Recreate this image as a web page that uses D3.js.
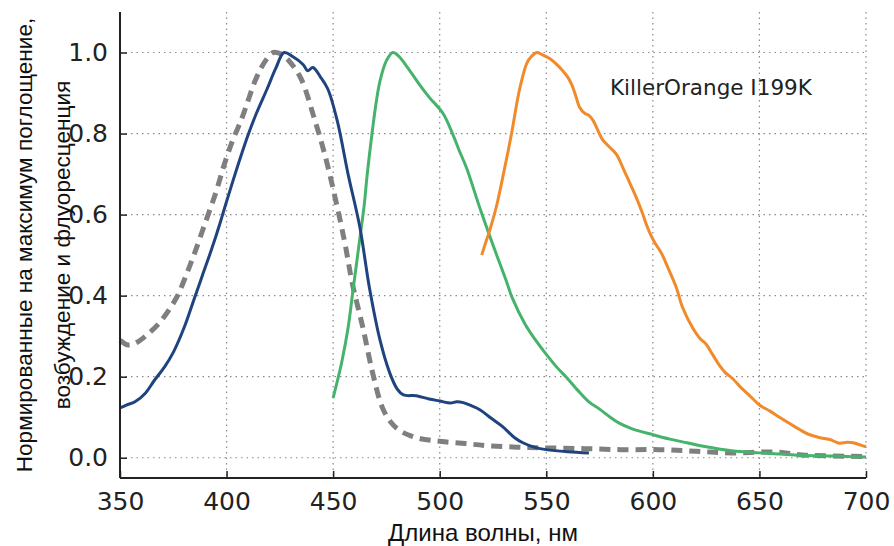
<!DOCTYPE html>
<html>
<head>
<meta charset="utf-8">
<script src="https://cdn.jsdelivr.net/npm/d3@7"></script>
<style>
  body { margin: 0; background: #fff; }
  svg { display: block; }
</style>
</head>
<body>
<div class="container"></div>
<script>
// Data: [wavelength nm, normalised value]
const absorbBlue = [
  [350,0.123],[353,0.13],[357,0.138],[362,0.16],[366,0.19],[371,0.225],[375,0.26],[380,0.32],
  [385,0.395],[389,0.455],[393,0.515],[397,0.58],[399,0.615],[404,0.70],[410,0.795],[414,0.85],
  [419,0.91],[423,0.96],[427,1.0],[431,0.99],[436,0.97],[438,0.955],[440.5,0.963],[444,0.94],
  [447.5,0.91],[452,0.83],[457,0.70],[462.5,0.57],[467,0.42],[472,0.29],[476.5,0.21],[480,0.17],
  [483,0.155],[489,0.153],[495,0.145],[500,0.14],[505,0.135],[508,0.138],[511,0.136],[515,0.128],
  [519,0.118],[524,0.098],[529.5,0.077],[535,0.05],[539,0.037],[545,0.025],[550,0.02],[560,0.015],[570,0.012]
];
const excitGray = [
  [350,0.29],[354,0.278],[358,0.285],[363,0.305],[368,0.33],[373,0.365],[377,0.40],[381,0.45],
  [385,0.505],[390,0.58],[395,0.655],[399,0.725],[403,0.785],[407,0.835],[410,0.88],[413,0.925],
  [416,0.96],[419,0.985],[422,1.0],[426,0.995],[430,0.975],[435,0.935],[441,0.84],[446,0.75],
  [451,0.64],[455.5,0.53],[459,0.43],[464,0.32],[468.5,0.21],[473,0.125],[477,0.088],[481,0.068],
  [486,0.055],[491,0.047],[501,0.04],[512,0.035],[522,0.03],[542,0.025],[564,0.023],[585,0.02],
  [603,0.02],[620,0.016],[637,0.012],[658,0.014],[670,0.007],[700,0.003]
];
const emitGreen = [
  [450,0.148],[452,0.19],[454,0.235],[457,0.32],[459,0.40],[461,0.48],[463,0.56],[464.5,0.62],
  [466,0.70],[468,0.79],[470,0.87],[472,0.93],[475,0.98],[478,1.0],[481,0.99],[484.5,0.966],
  [488,0.94],[490.6,0.92],[495,0.89],[501.5,0.85],[506,0.80],[509,0.76],[512.6,0.715],[518.8,0.617],
  [525,0.525],[531,0.44],[534,0.395],[540,0.33],[545,0.29],[550,0.255],[555,0.223],[559.5,0.198],
  [565,0.165],[570,0.138],[575,0.12],[580,0.10],[584,0.086],[590,0.072],[600,0.057],[608,0.046],
  [616,0.037],[625,0.027],[637,0.017],[650,0.012],[660,0.009],[669,0.006],[685,0.004],[700,0.002]
];
const emitOrange = [
  [519.7,0.50],[521.5,0.53],[523.4,0.56],[526.6,0.62],[529.5,0.69],[533.7,0.80],[537.5,0.91],
  [541,0.975],[543,0.99],[545.5,1.0],[548,0.995],[551.6,0.985],[555,0.97],[557.7,0.955],[560,0.94],
  [562,0.92],[564,0.89],[565.6,0.865],[568,0.85],[570,0.845],[572,0.832],[576.4,0.785],[580,0.765],
  [583,0.748],[586,0.715],[589,0.68],[592,0.645],[595,0.605],[597,0.575],[599,0.55],[601,0.53],
  [604,0.505],[607,0.47],[611,0.42],[614,0.37],[618.7,0.32],[622,0.295],[625,0.28],[628,0.255],
  [631,0.23],[634,0.21],[637.5,0.195],[641,0.175],[644,0.16],[647,0.145],[650,0.13],[655,0.115],
  [659.4,0.10],[664,0.085],[669,0.069],[673,0.058],[678,0.05],[683,0.045],[687.5,0.036],[691,0.038],
  [694,0.037],[697,0.032],[700,0.027]
];
const xTicks = [350, 400, 450, 500, 550, 600, 650, 700];
const yTicks = [0.0, 0.2, 0.4, 0.6, 0.8, 1.0];
const annotation = "KillerOrange I199K";
const xTitle = "Длина волны, нм";
const yTitle = ["Нормированные на максимум поглощение,", "возбуждение и флуоресценция"];

// Dimensions
const w = 894;
const h = 546;
const padLeft = 120, padTop = 12, padRight = 866, padBottom = 478;

const xScale = d3.scaleLinear().domain([350, 700]).range([padLeft, padRight]);
const yScale = d3.scaleLinear().domain([-0.05, 1.1]).range([padBottom, padTop]);

const svg = d3.select(".container")
  .append("svg")
  .attr("width", w)
  .attr("height", h);

// Grid
const grid = svg.append("g")
  .attr("stroke", "#8a8a8a")
  .attr("stroke-width", 1.2)
  .attr("stroke-dasharray", "1.5,4");
grid.selectAll(".vg")
  .data(xTicks.slice(1))
  .enter().append("line")
  .attr("x1", d => xScale(d)).attr("x2", d => xScale(d))
  .attr("y1", padTop).attr("y2", padBottom);
grid.selectAll(".hg")
  .data(yTicks)
  .enter().append("line")
  .attr("x1", padLeft).attr("x2", padRight)
  .attr("y1", d => yScale(d)).attr("y2", d => yScale(d));

// Curves
const line = d3.line().x(d => xScale(d[0])).y(d => yScale(d[1])).curve(d3.curveCatmullRom.alpha(0.5));

svg.append("path").datum(excitGray)
  .attr("fill", "none").attr("stroke", "#7f7f7f").attr("stroke-width", 5)
  .attr("stroke-dasharray", "11,7")
  .attr("d", line);
svg.append("path").datum(emitGreen)
  .attr("fill", "none").attr("stroke", "#45b36b").attr("stroke-width", 3)
  .attr("d", line);
svg.append("path").datum(emitOrange)
  .attr("fill", "none").attr("stroke", "#f08a2a").attr("stroke-width", 3)
  .attr("d", line);
svg.append("path").datum(absorbBlue)
  .attr("fill", "none").attr("stroke", "#1f437e").attr("stroke-width", 3)
  .attr("d", line);

// Axes
const xAxis = d3.axisBottom(xScale).tickValues(xTicks).tickSize(-7).tickPadding(14).tickFormat(d3.format("d"));
const gx = svg.append("g")
  .attr("transform", `translate(0,${padBottom})`)
  .call(xAxis);
const yAxis = d3.axisLeft(yScale).tickValues(yTicks).tickSize(-7).tickPadding(12).tickFormat(d3.format(".1f"));
const gy = svg.append("g")
  .attr("transform", `translate(${padLeft},0)`)
  .call(yAxis);

[gx, gy].forEach(g => {
  g.select(".domain").attr("stroke", "#222").attr("stroke-width", 2);
  g.selectAll(".tick line").attr("stroke", "#222").attr("stroke-width", 1.5);
  g.selectAll(".tick text")
    .style("font-family", "'DejaVu Sans'")
    .style("font-size", "25px")
    .attr("fill", "#222");
});
gx.select(".domain").attr("d", `M${padLeft},0H${padRight}`);
gy.select(".domain").attr("d", `M0,${padBottom}V${padTop}`);

// Annotation
svg.append("text")
  .attr("x", 610)
  .attr("y", 95)
  .style("font-family", "'DejaVu Sans'")
  .style("font-size", "21.5px")
  .attr("fill", "#222")
  .text(annotation);

// Axis titles
svg.append("text")
  .attr("x", 483)
  .attr("y", 541)
  .style("font-family", "'Liberation Sans', Arial, sans-serif")
  .style("font-size", "24px")
  .style("text-anchor", "middle")
  .attr("fill", "#111")
  .text(xTitle);

svg.append("text")
  .attr("transform", "rotate(-90)")
  .style("font-family", "'Liberation Sans', Arial, sans-serif")
  .style("font-size", "22.6px")
  .style("text-anchor", "middle")
  .attr("fill", "#111")
  .selectAll("tspan")
  .data(yTitle)
  .enter().append("tspan")
  .attr("x", -245)
  .attr("y", (d, i) => 32 + i * 38)
  .text(d => d);
</script>
</body>
</html>
